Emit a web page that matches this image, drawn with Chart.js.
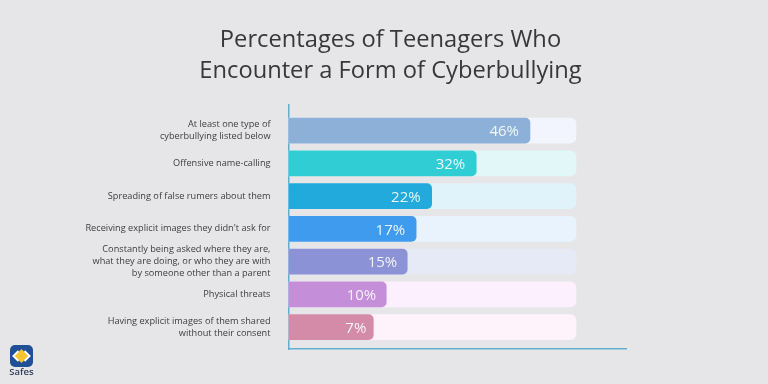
<!DOCTYPE html>
<html>
<head>
<meta charset="utf-8">
<style>
  html, body { margin: 0; padding: 0; background: #e6e6e8; }
  #box { width: 768px; height: 384px; }
</style>
<script src="https://cdn.jsdelivr.net/npm/chart.js@4"></script>
</head>
<body>
<div id="box"><canvas id="bullying"></canvas></div>
<script>
const titleLines = ["Percentages of Teenagers Who", "Encounter a Form of Cyberbullying"];
const categories = [
  ["At least one type of", "cyberbullying listed below"],
  "Offensive name-calling",
  "Spreading of false rumers about them",
  "Receiving explicit images they didn't ask for",
  ["Constantly being asked where they are,", "what they are doing, or who they are with", "by someone other than a parent"],
  "Physical threats",
  ["Having explicit images of them shared", "without their consent"],
];
// printed percentages
const percents = [46, 32, 22, 17, 15, 10, 7];
// drawn bar lengths, track = 100 (the picture's bars are not to scale with the printed numbers)
const barLengths = [84, 65.3, 49.8, 44.4, 41.3, 34, 29.5];
const trackLengths = [100, 100, 100, 100, 100, 100, 100];
const barColors = ["#8cb0d8", "#30cdd4", "#22aadd", "#3f9bee", "#8c92d6", "#c48ed9", "#d48ba8"];
const trackColors = ["#f2f5fd", "#e2f8f8", "#e1f3fa", "#e9f3fd", "#e6eaf6", "#fcf0fe", "#fef2fb"];

const valueLabels = {
  id: "valueLabels",
  afterDatasetsDraw(chart) {
    const ctx = chart.ctx;
    ctx.save();
    ctx.font = "15px 'Open Sans'";
    ctx.fillStyle = "rgba(255,255,255,0.88)";
    ctx.textAlign = "right";
    ctx.textBaseline = "middle";
    chart.getDatasetMeta(0).data.forEach((bar, i) => {
      const inset = percents[i] < 10 ? 7 : percents[i] < 17 ? 10 : 11;
      ctx.fillText(percents[i] + "%", bar.x - inset, bar.y + 1.5);
    });
    ctx.restore();
  },
};

const logo = {
  id: "logo",
  afterDraw(chart) {
    const ctx = chart.ctx;
    ctx.save();
    ctx.fillStyle = "#1f4f96";
    ctx.beginPath();
    ctx.roundRect(10, 345, 23, 22, 5);
    ctx.fill();
    ctx.fillStyle = "#f6c52c";
    ctx.beginPath();
    ctx.moveTo(21.5, 349);
    ctx.lineTo(28.5, 356);
    ctx.lineTo(21.5, 363);
    ctx.lineTo(14.5, 356);
    ctx.fill();
    ctx.strokeStyle = "#ffffff";
    ctx.lineWidth = 2;
    ctx.beginPath();
    ctx.moveTo(18.5, 351);
    ctx.lineTo(13.5, 356);
    ctx.lineTo(18.5, 361);
    ctx.moveTo(24.5, 351);
    ctx.lineTo(29.5, 356);
    ctx.lineTo(24.5, 361);
    ctx.stroke();
    ctx.fillStyle = "#2f3f55";
    ctx.font = "600 9.5px 'Open Sans'";
    ctx.textAlign = "center";
    ctx.textBaseline = "middle";
    ctx.fillText("Safes", 21.5, 372.5);
    ctx.restore();
  },
};

// title is centred on the page-ish, not on the plot
const titleShift = {
  id: "titleShift",
  afterLayout(chart) {
    chart.titleBlock.left = 0;
    chart.titleBlock.right = 781;
  },
};

const config = {
  type: "bar",
  data: {
    datasets: [
      {
        data: barLengths.map((v, i) => ({ x: v, y: i })),
        backgroundColor: barColors,
        barThickness: 25,
        borderRadius: { topLeft: 0, bottomLeft: 0, topRight: 5, bottomRight: 5 },
        borderSkipped: false,
        grouped: false,
      },
      {
        data: trackLengths.map((v, i) => ({ x: v, y: i })),
        backgroundColor: trackColors,
        barThickness: 25,
        borderRadius: { topLeft: 0, bottomLeft: 0, topRight: 6, bottomRight: 6 },
        borderSkipped: false,
        grouped: false,
      },
    ],
  },
  plugins: [valueLabels, logo, titleShift],
  options: {
    indexAxis: "y",
    responsive: true,
    maintainAspectRatio: false,
    animation: false,
    layout: { padding: { left: 0, right: 142, top: 0, bottom: 35 } },
    scales: {
      x: {
        min: 0,
        max: 117.4,
        grid: { display: false, drawTicks: false },
        ticks: { display: false },
        border: { color: "#62add0", width: 1.5 },
      },
      y: {
        type: "linear",
        reverse: true,
        offset: false,
        min: -0.78,
        max: 6.67,
        afterBuildTicks(axis) {
          axis.ticks = categories.map((c, i) => ({ value: i }));
        },
        afterFit(axis) {
          axis.width = 288.5;
        },
        grid: { display: false, drawTicks: false, offset: false },
        border: { color: "#62add0", width: 1.5 },
        ticks: {
          autoSkip: false,
          padding: 18,
          color: "#3d3d3d",
          font: { family: "'Open Sans'", size: 9.2, lineHeight: 1.3 },
          callback: (value) => categories[value],
        },
      },
    },
    plugins: {
      legend: { display: false },
      tooltip: { enabled: false },
      title: {
        display: true,
        text: titleLines,
        color: "#383838",
        font: { family: "'Open Sans'", size: 23.7, weight: "400", lineHeight: "31px" },
        padding: { top: 24.5, bottom: 18.5 },
      },
    },
  },
};

new Chart(document.getElementById("bullying"), config);
</script>
</body>
</html>
